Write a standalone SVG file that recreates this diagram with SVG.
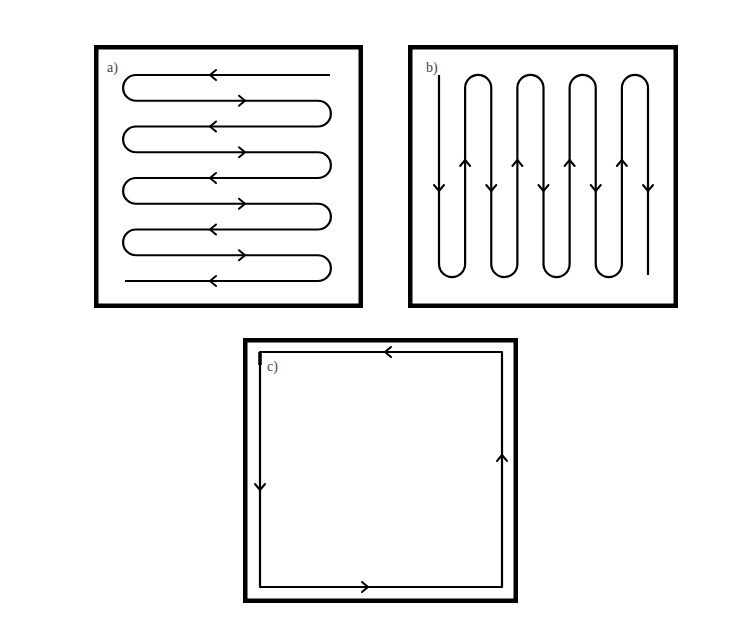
<svg xmlns="http://www.w3.org/2000/svg" width="744" height="639" viewBox="0 0 744 639">
<style>
.frame{fill:none;stroke:#000;stroke-width:4.5}
.path{fill:none;stroke:#000;stroke-width:2.2;stroke-linejoin:round}
.lbl{font-family:"Liberation Serif",serif;font-size:14px;fill:#444}
.chev{fill:none;stroke:#000;stroke-width:2;stroke-linecap:round;stroke-linejoin:round}
</style>
<defs>
<path id="ch" class="chev" d="M-3,-5 L3,0 L-3,5"/>
</defs>
<rect width="744" height="639" fill="#fff"/>
<g id="panel-a">
<rect class="frame" x="96.25" y="47.25" width="264.5" height="258.5"/>
<text class="lbl" x="107" y="72">a)</text>
<path class="path" d="M330,75 H136 A12.875,12.875 0 0 0 136,100.75 H318 A12.875,12.875 0 0 1 318,126.5 H136 A12.875,12.875 0 0 0 136,152.25 H318 A12.875,12.875 0 0 1 318,178 H136 A12.875,12.875 0 0 0 136,203.75 H318 A12.875,12.875 0 0 1 318,229.5 H136 A12.875,12.875 0 0 0 136,255.25 H318 A12.875,12.875 0 0 1 318,281 H125"/>
<g id="arrows-a">
<use href="#ch" transform="translate(213,75) rotate(180)"/>
<use href="#ch" transform="translate(242,100.75)"/>
<use href="#ch" transform="translate(213,126.5) rotate(180)"/>
<use href="#ch" transform="translate(242,152.25)"/>
<use href="#ch" transform="translate(213,178) rotate(180)"/>
<use href="#ch" transform="translate(242,203.75)"/>
<use href="#ch" transform="translate(213,229.5) rotate(180)"/>
<use href="#ch" transform="translate(242,255.25)"/>
<use href="#ch" transform="translate(213,281) rotate(180)"/>
</g>
</g>
<g id="panel-b">
<rect class="frame" x="410.25" y="47.25" width="265.5" height="258.5"/>
<text class="lbl" x="426" y="72">b)</text>
<path class="path" d="M439,75 V264 A13.06,13.06 0 0 0 465.12,264 V88 A13.06,13.06 0 0 1 491.25,88 V264 A13.06,13.06 0 0 0 517.38,264 V88 A13.06,13.06 0 0 1 543.5,88 V264 A13.06,13.06 0 0 0 569.62,264 V88 A13.06,13.06 0 0 1 595.75,88 V264 A13.06,13.06 0 0 0 621.88,264 V88 A13.06,13.06 0 0 1 648,88 V275"/>
<g id="arrows-b">
<use href="#ch" transform="translate(439,188) rotate(90)"/>
<use href="#ch" transform="translate(465.12,163) rotate(-90)"/>
<use href="#ch" transform="translate(491.25,188) rotate(90)"/>
<use href="#ch" transform="translate(517.38,163) rotate(-90)"/>
<use href="#ch" transform="translate(543.5,188) rotate(90)"/>
<use href="#ch" transform="translate(569.62,163) rotate(-90)"/>
<use href="#ch" transform="translate(595.75,188) rotate(90)"/>
<use href="#ch" transform="translate(621.88,163) rotate(-90)"/>
<use href="#ch" transform="translate(648,188) rotate(90)"/>
</g>
</g>
<g id="panel-c">
<rect class="frame" x="245.25" y="340.25" width="270.5" height="260.5"/>
<text class="lbl" x="267" y="371">c)</text>
<path class="path" d="M502,352 H260 V587 H502 Z"/>
<line x1="260" y1="352" x2="260" y2="365" stroke="#000" stroke-width="3.5"/>
<g id="arrows-c">
<use href="#ch" transform="translate(388,352) rotate(180)"/>
<use href="#ch" transform="translate(260,487) rotate(90)"/>
<use href="#ch" transform="translate(365,587)"/>
<use href="#ch" transform="translate(502,458) rotate(-90)"/>
</g>
</g>
</svg>
